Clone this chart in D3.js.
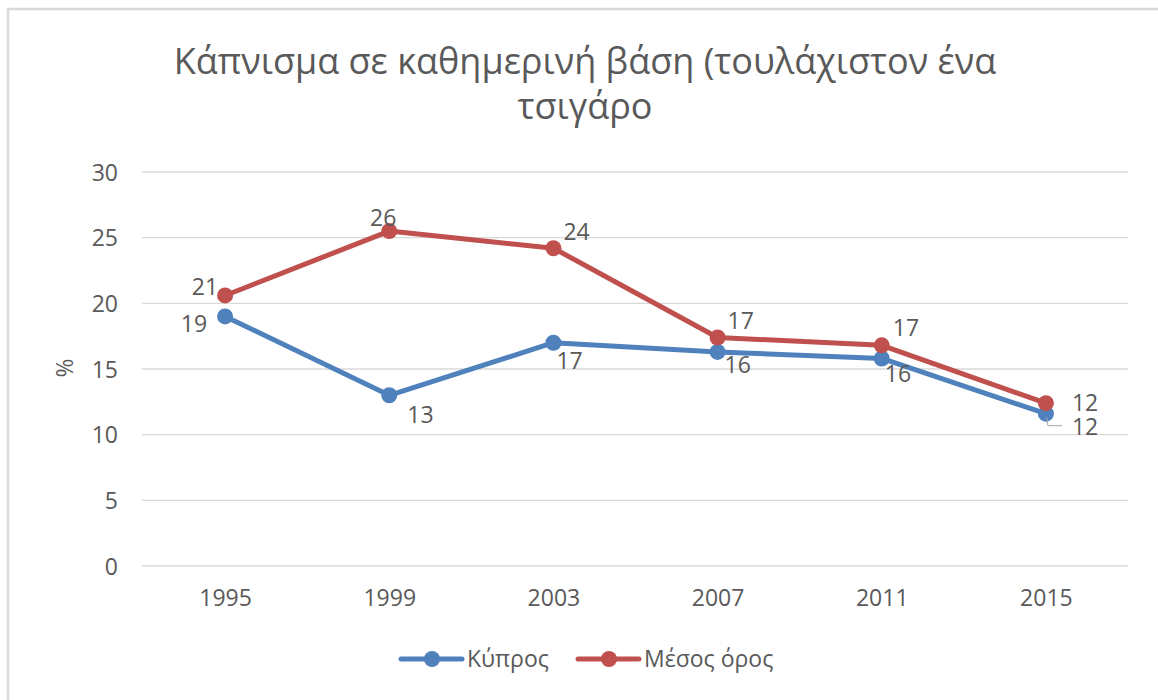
<!DOCTYPE html>
<html lang="el">
<head>
<meta charset="UTF-8">
<title>Κάπνισμα σε καθημερινή βάση</title>
<script src="https://d3js.org/d3.v7.min.js"></script>
<style>
  body { margin: 0; background: #fff; }
  svg text { font-family: "Open Sans", "DejaVu Sans", sans-serif; fill: #595959; }
</style>
</head>
<body>
<div id="chart"></div>
<script>
// data
const years = ["1995", "1999", "2003", "2007", "2011", "2015"];
const cyprus = [19.0, 13.0, 17.0, 16.3, 15.8, 11.6];
const euAverage = [20.6, 25.5, 24.2, 17.4, 16.8, 12.4];
const yTicks = [0, 5, 10, 15, 20, 25, 30];
const seriesNames = ["Κύπρος", "Μέσος όρος"];
const titleLines = ["Κάπνισμα σε καθημερινή βάση (τουλάχιστον ένα", "τσιγάρο"];

// label placement relative to each point: [dx, dy, anchor]
const cyprusLabelPos = [[-18, 16, "end"], [18, 28, "start"], [3, 26, "start"], [7, 21, "start"], [3, 24, "start"], [26, 21, "start"]];
const euLabelPos = [[-7, 0, "end"], [-6, -5, "middle"], [10, -8, "start"], [10, -8, "start"], [11, -9, "start"], [26, 8, "start"]];

const W = 1158, H = 700;
const colors = ["#4f81bd", "#c0504d"];
const fs = 23;

const svg = d3.select("#chart").append("svg")
  .attr("width", W).attr("height", H);

// chart frame (only top and left edges are visible in the crop)
svg.append("rect")
  .attr("x", 8).attr("y", 9)
  .attr("width", W + 20).attr("height", H + 20)
  .attr("fill", "none").attr("stroke", "#d9d9d9").attr("stroke-width", 2.5);

const x = d3.scalePoint().domain(years).range([143, 1128]).padding(0.5);
const y = d3.scaleLinear().domain([0, 30]).range([566, 172]);

// title
svg.append("g").selectAll("text")
  .data(titleLines).enter().append("text")
  .attr("x", 585).attr("y", (d, i) => 74 + i * 45)
  .attr("text-anchor", "middle")
  .attr("font-size", 36)
  .text(d => d);

// gridlines
svg.append("g").selectAll("line")
  .data(yTicks).enter().append("line")
  .attr("x1", 142).attr("x2", 1128)
  .attr("y1", d => y(d)).attr("y2", d => y(d))
  .attr("stroke", "#d9d9d9").attr("stroke-width", 1.3);

// y axis
const yAxis = svg.append("g")
  .attr("transform", "translate(118,0)")
  .call(d3.axisLeft(y).tickValues(yTicks).tickSize(0).tickPadding(0));
yAxis.select(".domain").remove();
yAxis.selectAll("text").attr("font-size", fs).attr("dy", "0.35em").style("font-family", null);

// x axis
const xAxis = svg.append("g")
  .attr("transform", "translate(0,590)")
  .call(d3.axisBottom(x).tickSize(0).tickPadding(0));
xAxis.select(".domain").remove();
xAxis.selectAll("text").attr("font-size", fs).attr("dy", "0.7em").style("font-family", null);

svg.append("text")
  .attr("transform", "translate(73,368) rotate(-90)")
  .attr("text-anchor", "middle")
  .attr("font-size", fs)
  .text("%");

const series = [
  { name: seriesNames[0], values: cyprus, color: colors[0], pos: cyprusLabelPos },
  { name: seriesNames[1], values: euAverage, color: colors[1], pos: euLabelPos }
];

const line = d3.line().x((d, i) => x(years[i])).y(d => y(d));

series.forEach(s => {
  const g = svg.append("g");
  g.append("path")
    .attr("d", line(s.values))
    .attr("fill", "none").attr("stroke", s.color)
    .attr("stroke-width", 5).attr("stroke-linejoin", "round").attr("stroke-linecap", "round");
  g.selectAll("circle")
    .data(s.values).enter().append("circle")
    .attr("cx", (d, i) => x(years[i]))
    .attr("cy", d => y(d))
    .attr("r", 8)
    .attr("fill", s.color);
});

// leader line for the last Cyprus label
svg.append("path")
  .attr("d", `M${x("2015") + 1},${y(cyprus[5]) + 4} L${x("2015") + 2},${y(cyprus[5]) + 12} L${x("2015") + 16},${y(cyprus[5]) + 12}`)
  .attr("fill", "none").attr("stroke", "#a6a6a6").attr("stroke-width", 1);

// data labels
series.forEach(s => {
  svg.append("g").selectAll("text")
    .data(s.values).enter().append("text")
    .attr("x", (d, i) => x(years[i]) + s.pos[i][0])
    .attr("y", (d, i) => y(d) + s.pos[i][1])
    .attr("text-anchor", (d, i) => s.pos[i][2])
    .attr("font-size", fs)
    .text(d => Math.round(d));
});

// legend
const legendX = [401, 578];
const legend = svg.append("g").selectAll("g")
  .data(series).enter().append("g")
  .attr("transform", (d, i) => `translate(${legendX[i]},659)`);
legend.append("line")
  .attr("x1", 0).attr("x2", 61)
  .attr("stroke", d => d.color).attr("stroke-width", 5).attr("stroke-linecap", "round");
legend.append("circle")
  .attr("cx", 31).attr("r", 8).attr("fill", d => d.color);
legend.append("text")
  .attr("x", 66).attr("dy", "0.35em")
  .attr("font-size", fs)
  .text(d => d.name);
</script>
</body>
</html>
